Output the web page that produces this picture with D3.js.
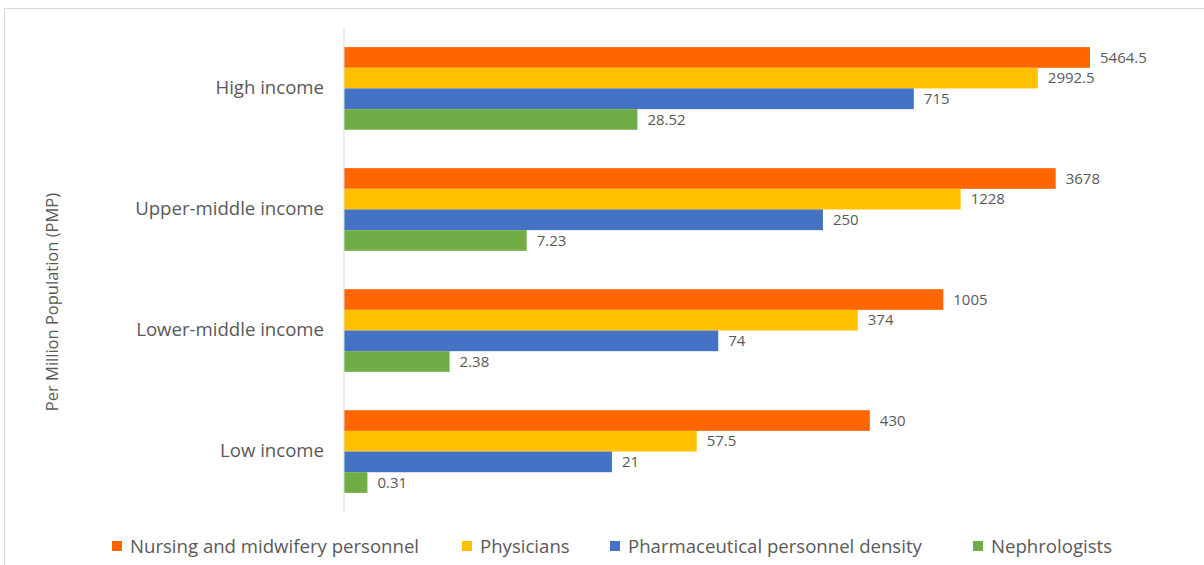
<!DOCTYPE html>
<html lang="en">
<head>
<meta charset="utf-8">
<title>Health workforce per million population</title>
<script src="https://cdn.jsdelivr.net/npm/d3@7"></script>
<style>
  body { margin: 0; background: #fff; }
  svg text { font-family: "Open Sans", "Liberation Sans", sans-serif; fill: #595959; }
</style>
</head>
<body>
<script>
// categories, top to bottom
var groups = ["High income", "Upper-middle income", "Lower-middle income", "Low income"];
var seriesNames = ["Nursing and midwifery personnel", "Physicians", "Pharmaceutical personnel density", "Nephrologists"];
var seriesColors = ["#FF6600", "#FFC000", "#4472C4", "#70AD47"];

// values per series, in the order of groups
var nursing = [5464.5, 3678, 1005, 430];
var physicians = [2992.5, 1228, 374, 57.5];
var pharma = [715, 250, 74, 21];
var nephro = [28.52, 7.23, 2.38, 0.31];
var valueLabels = [
  ["5464.5", "3678", "1005", "430"],
  ["2992.5", "1228", "374", "57.5"],
  ["715", "250", "74", "21"],
  ["28.52", "7.23", "2.38", "0.31"]
];
var series = [nursing, physicians, pharma, nephro];

var w = 1204, h = 565;
var x0 = 344, plotTop = 28, plotBottom = 512;

var svg = d3.select("body").append("svg")
  .attr("width", w).attr("height", h);

// chart frame
svg.append("rect")
  .attr("x", 4.5).attr("y", 8.5)
  .attr("width", w + 10).attr("height", h + 10)
  .attr("fill", "none").attr("stroke", "#d9d9d9");

// the bar lengths follow log(1 + v)
var xScale = d3.scaleSymlog().constant(1)
  .domain([0, 5464.5])
  .range([x0, 1090]);

var yScale = d3.scaleBand()
  .domain(groups)
  .range([plotTop, plotBottom])
  .paddingInner(0.317)
  .paddingOuter(0.158);

var inner = d3.scaleBand()
  .domain(d3.range(series.length))
  .range([0, yScale.bandwidth()]);

var rows = [];
series.forEach(function(vals, s) {
  vals.forEach(function(v, i) {
    rows.push({ s: s, g: groups[i], v: v, label: valueLabels[s][i] });
  });
});

svg.selectAll("rect.bar")
  .data(rows)
  .enter()
  .append("rect")
  .attr("class", "bar")
  .attr("x", x0)
  .attr("y", function(d) { return yScale(d.g) + inner(d.s); })
  .attr("width", function(d) { return xScale(d.v) - x0; })
  .attr("height", inner.bandwidth())
  .attr("fill", function(d) { return seriesColors[d.s]; });

svg.selectAll("text.val")
  .data(rows)
  .enter()
  .append("text")
  .attr("class", "val")
  .attr("x", function(d) { return xScale(d.v) + 10; })
  .attr("y", function(d) { return yScale(d.g) + inner(d.s) + inner.bandwidth() / 2; })
  .attr("dy", "0.35em")
  .style("font-size", "15px")
  .text(function(d) { return d.label; });

// category axis
var yAxis = d3.axisLeft(yScale).tickSize(0).tickPadding(20);
var gy = svg.append("g")
  .attr("transform", "translate(" + x0 + ",0)")
  .call(yAxis);
gy.select(".domain").remove();
gy.selectAll("text")
  .style("font-size", "18.6px")
  .style("font-family", "'Open Sans', sans-serif")
  .attr("fill", "#595959");

svg.append("line")
  .attr("x1", x0).attr("x2", x0)
  .attr("y1", plotTop).attr("y2", plotBottom)
  .attr("stroke", "#d9d9d9");

// axis title
svg.append("text")
  .attr("transform", "translate(52,302) rotate(-90)")
  .attr("text-anchor", "middle")
  .attr("dy", "0.35em")
  .style("font-size", "16.5px")
  .text("Per Million Population (PMP)");

// legend
var legendX = [112, 462, 610, 973];
var legend = svg.selectAll("g.leg")
  .data(seriesNames)
  .enter()
  .append("g")
  .attr("class", "leg")
  .attr("transform", function(d, i) { return "translate(" + legendX[i] + ",546)"; });

legend.append("rect")
  .attr("x", 0).attr("y", -5)
  .attr("width", 10).attr("height", 10)
  .attr("fill", function(d, i) { return seriesColors[i]; });

legend.append("text")
  .attr("x", 18)
  .attr("dy", "0.35em")
  .style("font-size", "18.6px")
  .text(function(d) { return d; });
</script>
</body>
</html>
